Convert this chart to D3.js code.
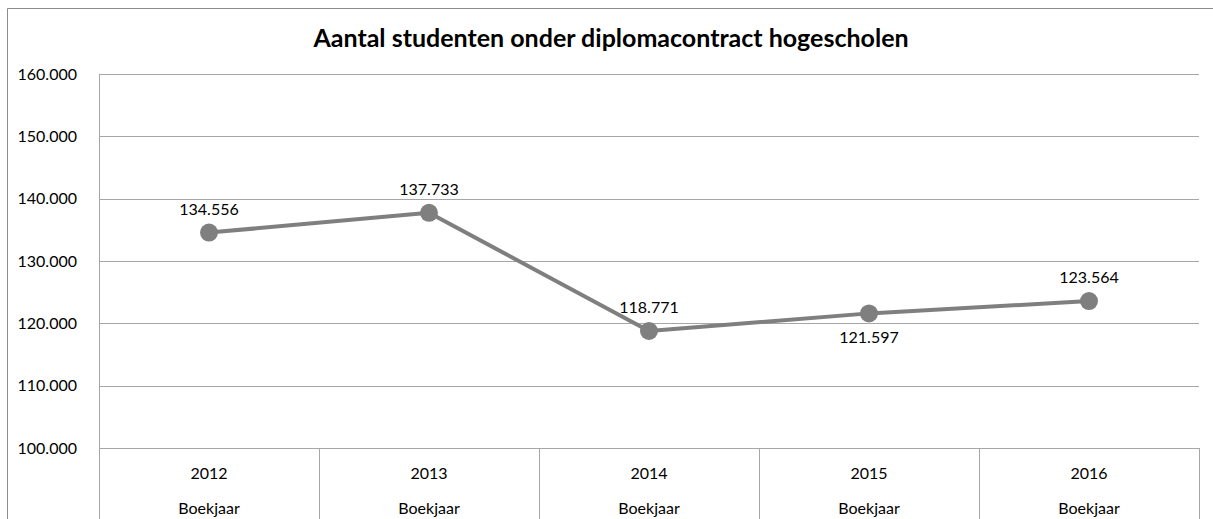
<!DOCTYPE html>
<html>
<head>
<meta charset="utf-8">
<script src="https://cdn.jsdelivr.net/npm/d3@7"></script>
<style>
  html, body { margin: 0; padding: 0; background: #fff; }
  svg { display: block; }
  text { font-family: Lato, "Open Sans", sans-serif; fill: #000; }
</style>
</head>
<body>
<svg id="chart" width="1213" height="519"></svg>
<script>
// Students under diploma contract, per fiscal year
const years = ["2012", "2013", "2014", "2015", "2016"];
const groupLabel = "Boekjaar";
const students = [134556, 137733, 118771, 121597, 123564];
const labelSide = ["above", "above", "above", "below", "above"];
const yTicks = [100000, 110000, 120000, 130000, 140000, 150000, 160000];
const title = "Aantal studenten onder diplomacontract hogescholen";

const W = 1213, H = 519;
const plot = { left: 99, right: 1199, top: 74, bottom: 448 };

const nl = d3.formatLocale({ decimal: ",", thousands: ".", grouping: [3], currency: ["€ ", ""] });
const fmt = nl.format(",d");

const svg = d3.select("#chart");

const x = d3.scaleBand().domain(years).range([plot.left, plot.right]).paddingInner(0).paddingOuter(0);
const y = d3.scaleLinear().domain([100000, 160000]).range([plot.bottom, plot.top]);

const gridColor = "#a6a6a6";
const lineColor = "#7f7f7f";

// outer chart frame
svg.append("path")
  .attr("d", `M7.5,${H + 2}V8.5H${W + 2}`)
  .attr("fill", "none")
  .attr("stroke", "#8c8c8c")
  .attr("stroke-width", 1);

// title
svg.append("text")
  .attr("x", 611)
  .attr("y", 47)
  .attr("text-anchor", "middle")
  .attr("font-weight", "bold")
  .attr("font-size", 25)
  .text(title);

// horizontal gridlines + value labels
const yAxis = d3.axisLeft(y)
  .tickValues(yTicks)
  .tickFormat(fmt)
  .tickSize(-(plot.right - plot.left))
  .tickPadding(22);

const gy = svg.append("g")
  .attr("transform", `translate(${plot.left},0)`)
  .call(yAxis);
gy.select(".domain").remove();
gy.selectAll(".tick line")
  .attr("stroke", gridColor)
  .attr("shape-rendering", "crispEdges");
gy.selectAll(".tick text")
  .attr("font-size", 16)
  .attr("font-family", "Lato, sans-serif")
  .attr("fill", "#000");

// vertical value-axis line
svg.append("line")
  .attr("x1", plot.left).attr("x2", plot.left)
  .attr("y1", plot.top).attr("y2", H + 2)
  .attr("stroke", gridColor)
  .attr("shape-rendering", "crispEdges");

// category separators (multi-level axis)
const bounds = years.map(d => x(d)).concat([x(years[years.length - 1]) + x.bandwidth()]);
svg.append("g").selectAll("line")
  .data(bounds)
  .join("line")
  .attr("x1", d => d).attr("x2", d => d)
  .attr("y1", plot.bottom).attr("y2", H + 2)
  .attr("stroke", gridColor)
  .attr("shape-rendering", "crispEdges");

// category labels
const cat = svg.append("g").selectAll("g")
  .data(years)
  .join("g")
  .attr("transform", d => `translate(${x(d) + x.bandwidth() / 2},0)`);
cat.append("text")
  .attr("y", 479)
  .attr("text-anchor", "middle")
  .attr("font-size", 16)
  .text(d => d);
cat.append("text")
  .attr("y", 514)
  .attr("text-anchor", "middle")
  .attr("font-size", 16)
  .text(groupLabel);

// series line
const pts = years.map((yr, i) => ({ yr, v: students[i], side: labelSide[i] }));
const cx = d => x(d.yr) + x.bandwidth() / 2;

svg.append("path")
  .datum(pts)
  .attr("fill", "none")
  .attr("stroke", lineColor)
  .attr("stroke-width", 4)
  .attr("stroke-linejoin", "round")
  .attr("d", d3.line().x(cx).y(d => y(d.v)));

// markers
svg.append("g").selectAll("circle")
  .data(pts)
  .join("circle")
  .attr("cx", cx)
  .attr("cy", d => y(d.v))
  .attr("r", 9)
  .attr("fill", lineColor);

// data labels
svg.append("g").selectAll("text")
  .data(pts)
  .join("text")
  .attr("x", cx)
  .attr("y", d => y(d.v) + (d.side === "above" ? -18 : 30))
  .attr("text-anchor", "middle")
  .attr("font-size", 16)
  .text(d => fmt(d.v));
</script>
</body>
</html>
